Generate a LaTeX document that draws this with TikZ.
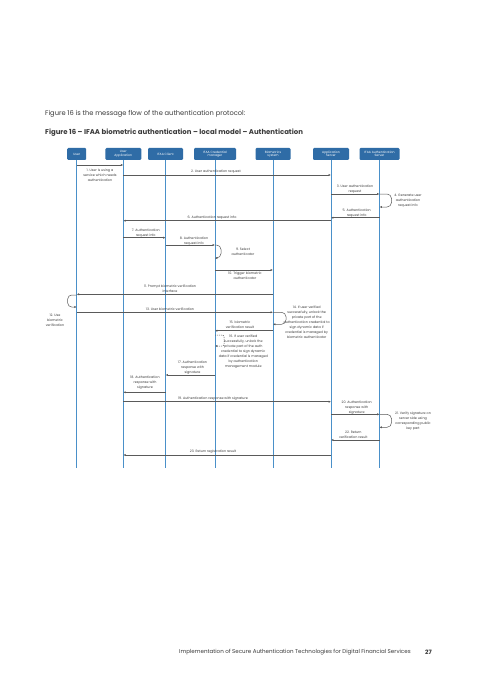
\documentclass[tikz,border=0pt]{standalone}
\usepackage{fontspec}
\setmainfont{Poppins}
\usetikzlibrary{arrows.meta,calc}
\definecolor{boxblue}{HTML}{2F6CA6}
\definecolor{lineblue}{HTML}{4A90C9}
\definecolor{msggray}{HTML}{5A5A5A}
\definecolor{txtgray}{HTML}{3A3A3A}
\newcommand\mymsg[3]{\draw[msg] (#1 |- 0,#3) -- (#2 |- 0,#3);}
\newcommand\myloop[4]{\draw[msg, rounded corners=4.5pt] (#1 |- 0,#2) -- ++(#4,0) -- ($(#1 |- 0,#3)+(#4,0)$) -- (#1 |- 0,#3);}
\begin{document}
\begin{tikzpicture}[x=1pt,y=-1pt,
 actor/.style={draw=none, fill=boxblue, rounded corners=1.2pt, text=white, font=\fontsize{3.1}{3.5}\selectfont, align=center, minimum height=12pt, inner sep=0.5pt},
 life/.style={draw=lineblue, line width=0.9pt},
 msg/.style={draw=msggray, line width=0.5pt, -{Latex[length=2.4pt,width=2.2pt]}},
 lbl/.style={font=\fontsize{3.3}{5}\selectfont, align=center, text=txtgray, inner sep=0pt},
 body/.style={font=\fontsize{6.7}{8}\selectfont, text=txtgray, inner sep=0pt, anchor=west},
]
\useasboundingbox[fill=white] (0,0) rectangle (480,679);
\node[body] (intro) at (45,114) {Figure 16 is the message flow of the authentication protocol:};
\node[body, font=\fontsize{6.95}{8}\bfseries] (title) at (45,133) {Figure 16 – IFAA biometric authentication – local model – Authentication};
\node[body, font=\fontsize{5.55}{6}\selectfont] (foot) at (179,652) {Implementation of Secure Authentication Technologies for Digital Financial Services};
\node[body, font=\fontsize{6}{7}\bfseries] (page) at (425,652) {27};

% actors
\node[actor, minimum width=19pt] (user) at (76.7,154) {User};
\node[actor, minimum width=36pt] (ua) at (123.3,154) {User\\Application};
\node[actor, minimum width=35pt] (ic) at (165.5,154) {IFAA Client};
\node[actor, minimum width=42pt] (cm) at (215,154) {IFAA Credential\\manager};
\node[actor, minimum width=35pt] (bs) at (273,154) {Biometrics\\system};
\node[actor, minimum width=36pt] (as) at (331,154) {Application\\Server};
\node[actor, minimum width=40pt] (au) at (379.5,154) {IFAA Authentication\\Server};
\foreach \n in {user,ua,ic,cm,bs,as,au}{
  \coordinate (\n end) at (\n |- 0,468);
  \draw[life] (\n.south) -- (\n end);
}

% messages
\mymsg{user}{ua}{165}
\node[lbl] (l1) at (100,175) {1. User is using a\\service which needs\\authentication};
\mymsg{ua}{as}{175}
\node[lbl] (l2) at (216,172) {2. User authentication request};
\mymsg{as}{au}{194}
\node[lbl] (l3) at (355,189) {3. User authentication\\request};
\myloop{au}{194}{207}{12}
\node[lbl] (l4) at (408,201) {4. Generate user\\authentication\\request info};
\mymsg{au}{as}{217.7}
\node[lbl] (l5) at (356.7,213) {5. Authentication\\request info};
\mymsg{as}{ua}{220.7}
\node[lbl] (l6) at (212,218) {6. Authentication request info};
\mymsg{ua}{ic}{237.7}
\node[lbl] (l7) at (145.8,232.7) {7. Authentication\\request info};
\mymsg{ic}{cm}{245}
\node[lbl] (l8) at (194,240.8) {8. Authentication\\request info};
\myloop{cm}{245}{258}{6}
\node[lbl] (l9) at (243,251.8) {9. Select\\authenticator};
\mymsg{cm}{bs}{270}
\node[lbl] (l10) at (245,275.8) {10. Trigger biometric\\authenticator};
\mymsg{bs}{user}{294.3}
\node[lbl] (l11) at (170,289.2) {11. Prompt biometric verification\\interface};
\draw[msg, rounded corners=4pt] (user |- 0,295) -- ++(-9,0) -- ++(0,12) -- (user |- 0,307);
\node[lbl] (l12) at (55,320) {12. Use\\biometric\\verification};
\mymsg{user}{bs}{312.3}
\node[lbl] (l13) at (170,309.3) {13. User biometric verification};
\myloop{bs}{312.3}{324.3}{13}
\node[lbl] (l14) at (306.7,322.3) {14. If user verified\\successfully, unlock the\\private part of the\\authentication credential to\\sign dynamic data if\\credential is managed by\\biometric authenticator};
\mymsg{bs}{cm}{330.7}
\node[lbl] (l15) at (240,324.8) {15. biometric\\verification result};
\draw[msg, dashed, dash pattern=on 1pt off 1pt, rounded corners=2pt] (cm |- 0,335) -- ++(9,0) -- ++(0,11) -- (cm |- 0,346);
\node[lbl] (l16) at (243.3,352) {16. If user verified\\successfully, unlock the\\private part of the auth\\credential to sign dynamic\\data if credential is managed\\by authentication\\management module};
\mymsg{cm}{ic}{375}
\node[lbl] (l17) at (192.5,367.7) {17. Authentication\\response with\\signature};
\mymsg{ic}{ua}{392.3}
\node[lbl] (l18) at (145,383) {18. Authentication\\response with\\signature};
\mymsg{ua}{as}{401.7}
\node[lbl] (l19) at (213,398.3) {19. Authentication response with signature};
\mymsg{as}{au}{414.3}
\node[lbl] (l20) at (356.7,407.8) {20. Authentication\\response with\\signature};
\myloop{au}{414.3}{427.3}{12}
\node[lbl] (l21) at (413,421.5) {21. Verify signature on\\server side using\\corresponding public\\key part};
\mymsg{au}{as}{440}
\node[lbl] (l22) at (353.3,435.2) {22. Return\\verification result};
\mymsg{as}{ua}{455}
\node[lbl] (l23) at (213,451.7) {23. Return registration result};
\end{tikzpicture}
\end{document}
